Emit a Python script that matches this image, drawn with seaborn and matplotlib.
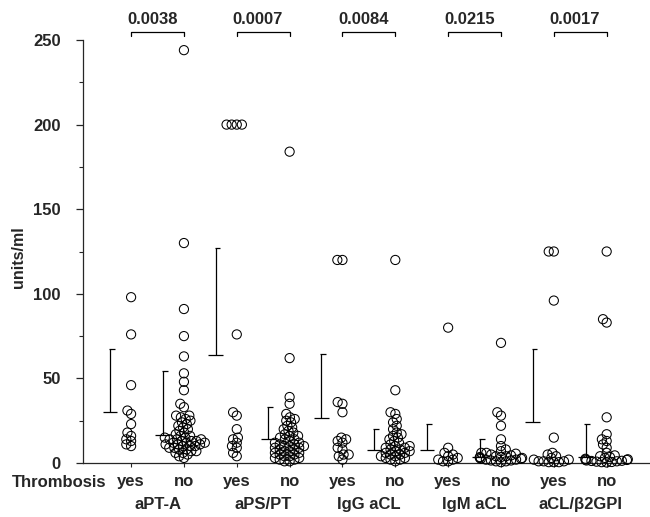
import numpy as np
import pandas as pd
import matplotlib
matplotlib.use("Agg")
import matplotlib.pyplot as plt
import matplotlib.transforms as mtransforms
import seaborn as sns

# ---------------- data ----------------
markers = ["aPT-A", "aPS/PT", "IgG aCL", "IgM aCL", "aCL/\u03b22GPI"]
thrombosis = ["yes", "no"]
p_values = ["0.0038", "0.0007", "0.0084", "0.0215", "0.0017"]

apta_yes = [98, 76, 46, 31, 29, 23, 18, 16, 14, 13, 11, 10]
apta_no = [244, 130, 91, 75, 63, 53, 48, 43, 35, 33, 28, 28, 27, 26, 25, 24, 23,
           22, 21, 20, 19, 18, 17, 16, 16, 15, 15, 14, 14, 14, 13, 13, 13, 12, 12,
           12, 11, 11, 11, 10, 10, 10, 9, 9, 8, 8, 7, 7, 6, 6, 5, 4, 3]
apspt_yes = [200, 200, 200, 200, 76, 30, 28, 20, 15, 14, 12, 10, 9, 6, 4]
apspt_no = [184, 62, 39, 35, 29, 27, 26, 25, 24, 22, 21, 20, 19, 18, 17, 16, 16,
            15, 14, 14, 13, 12, 12, 11, 11, 10, 10, 10, 9, 9, 8, 8, 7, 7, 6, 6,
            5, 5, 4, 4, 3, 3, 2, 2, 1, 1]
igg_yes = [120, 120, 36, 35, 30, 15, 14, 13, 12, 9, 8, 5, 5, 4, 2]
igg_no = [120, 43, 30, 29, 26, 24, 22, 20, 18, 17, 16, 15, 14, 13, 12, 11, 10,
          10, 9, 9, 8, 8, 7, 7, 6, 6, 5, 5, 4, 4, 3, 3, 2, 2, 1]
igm_yes = [80, 9, 6, 5, 4, 3, 2, 2, 1, 1]
igm_no = [71, 30, 28, 22, 14, 10, 8, 7, 6, 6, 5.5, 5, 4.5, 4, 4, 3.5, 3.5, 3,
          3, 2.5, 2.5, 2, 2, 1.5, 1.5, 1, 1, 0.5]
b2gpi_yes = [125, 125, 96, 15, 6, 5, 4, 3, 2, 2, 1, 1, 1, 0.5, 0.5, 0.5]
b2gpi_no = [125, 85, 83, 27, 17, 14, 13, 11, 9, 6, 4.5, 4, 3.5, 3, 2.5, 2.2,
            2, 1.8, 1.5, 1.3, 1.2, 1, 0.8, 0.6, 0.5, 0.3]

group_values = [apta_yes, apta_no, apspt_yes, apspt_no, igg_yes, igg_no,
                igm_yes, igm_no, b2gpi_yes, b2gpi_no]
# mean and mean + SD
means = [30, 16.5, 64, 14, 26.5, 7.7, 7.7, 3.7, 24, 3.7]
upper = [67.4, 54.4, 127, 33, 64.4, 20, 23, 14.2, 67.4, 23]

# ---------------- build table ----------------
positions = np.arange(len(group_values))
rows = []
for pos, vals in zip(positions, group_values):
    for v in vals:
        rows.append({"pos": pos, "value": v})
df = pd.DataFrame(rows)

# ---------------- plot ----------------
sns.set_style("ticks")
plt.rcParams["font.family"] = ["Liberation Sans", "DejaVu Sans"]
plt.rcParams["font.weight"] = "bold"

fig = plt.figure(figsize=(6.5, 5.17), dpi=100)
ax = fig.add_axes([83 / 650, 54 / 517, 1 - 83 / 650, 423 / 517])

# swarm laid out with small markers, then drawn larger so circles overlap
sns.swarmplot(data=df, x="pos", y="value", native_scale=True, orient="x",
              size=3.4, color="black", linewidth=0.1, edgecolor="black",
              ax=ax, clip_on=False, zorder=3, warn_thresh=1.0)

XLIM = (-0.91, 9.82)
ax.set_ylim(0, 250)
ax.set_xlim(*XLIM)
fig.canvas.draw()
for c in ax.collections:
    if "draw" in c.__dict__:
        del c.draw
    c.set_sizes([6.6 ** 2])
    c.set_facecolor("none")
    c.set_edgecolor("black")
    c.set_linewidth(0.75)
ax.set_xlim(*XLIM)
ax.set_ylim(0, 250)

# half error bars (mean -> mean + SD), drawn left of each group
xpos = positions - 0.4
ax.vlines(xpos, means, upper, color="black", lw=0.9)
ax.hlines(means, xpos - 0.14, xpos + 0.14, color="black", lw=0.9)
ax.hlines(upper, xpos - 0.02, xpos + 0.09, color="black", lw=0.9)

# axes styling
sns.despine(ax=ax)
ax.spines["left"].set_linewidth(0.9)
ax.spines["bottom"].set_linewidth(0.9)
ax.set_yticks([0, 50, 100, 150, 200, 250])
ax.set_yticks(np.arange(25, 250, 50), minor=True)
ax.tick_params(axis="y", which="major", length=5, width=0.9, pad=11, labelsize=12)
ax.tick_params(axis="y", which="minor", length=3, width=0.8)
ax.set_xticks(positions)
ax.set_xticklabels([t for m in markers for t in thrombosis], fontsize=12,
                   fontweight="bold")
ax.tick_params(axis="x", length=3, width=0.8, pad=5, labelsize=12)
for lab in ax.get_yticklabels():
    lab.set_fontweight("bold")
ax.set_xlabel("")
ax.set_ylabel("units/ml", fontsize=11.5, fontweight="bold")
ax.yaxis.set_label_coords(-0.100, 0.487)

trans = mtransforms.blended_transform_factory(ax.transData, ax.transAxes)
ax.text(-1.36, -0.047, "Thrombosis", transform=trans, ha="center",
        va="center", fontsize=12, fontweight="bold", clip_on=False)
for i, m in enumerate(markers):
    ax.text(2 * i + 0.5, -0.099, m, transform=trans, ha="center",
            va="center", fontsize=12, fontweight="bold", clip_on=False)

# significance brackets
for i, p in enumerate(p_values):
    x0, x1 = positions[2 * i], positions[2 * i + 1]
    ax.plot([x0, x0, x1, x1], [252.4, 254.7, 254.7, 252.4], color="black",
            lw=0.9, clip_on=False)
    ax.text((x0 + x1) / 2 - 0.1, 262, p, ha="center", va="center",
            fontsize=12, fontweight="bold", clip_on=False)

fig.savefig("out.png", dpi=100)
